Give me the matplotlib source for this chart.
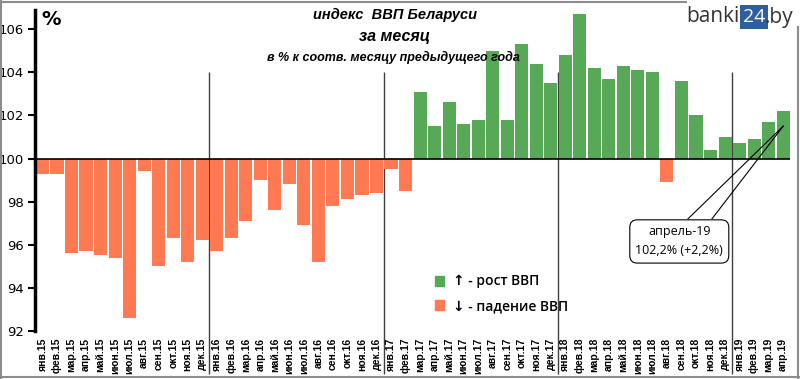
import numpy as np
import matplotlib
matplotlib.use("Agg")
import matplotlib.pyplot as plt
from matplotlib.patches import Patch
from matplotlib.lines import Line2D

# monthly GDP index, % to the same month of the previous year
months = ["янв", "фев", "мар", "апр", "май", "июн",
          "июл", "авг", "сен", "окт", "ноя", "дек"]
years = ["15", "16", "17", "18", "19"]
labels = [f"{m}.{y}" for y in years for m in months][:52]

gdp_2015 = [99.3, 99.3, 95.6, 95.7, 95.5, 95.4, 92.6, 99.4, 95.0, 96.3, 95.2, 96.2]
gdp_2016 = [95.7, 96.3, 97.1, 99.0, 97.6, 98.8, 96.9, 95.2, 97.8, 98.1, 98.3, 98.4]
gdp_2017 = [99.5, 98.5, 103.1, 101.5, 102.6, 101.6, 101.8, 105.0, 101.8, 105.3, 104.4, 103.5]
gdp_2018 = [104.8, 106.7, 104.2, 103.7, 104.3, 104.1, 104.0, 98.9, 103.6, 102.0, 100.4, 101.0]
gdp_2019 = [100.7, 100.9, 101.7, 102.2]
values = np.array(gdp_2015 + gdp_2016 + gdp_2017 + gdp_2018 + gdp_2019)

year_breaks = [11.5, 23.5, 35.5, 47.5]

GREEN = "#57A857"
RED = "#FF7A52"
BASE = 100

fig = plt.figure(figsize=(8, 3.79), dpi=100)
ax = fig.add_axes([0.044, 0.127, 0.944, 0.847])

x = np.arange(len(values))
colors = [GREEN if v >= BASE else RED for v in values]
ax.bar(x, values - BASE, bottom=BASE, width=0.9, color=colors, zorder=2)

ax.axhline(BASE, color="black", lw=1.2, zorder=3)
ax.vlines(year_breaks, 90.0, 104, color="#404040", lw=1, clip_on=False, zorder=1)

ax.set_xlim(-0.5, len(values) - 0.5)
ax.set_ylim(92, 106.9)
ax.set_yticks(np.arange(92, 107, 2))
ax.tick_params(axis="y", direction="out", length=5, width=1.5, labelsize=9.5, pad=3)
ax.set_xticks(x)
ax.set_xticklabels(labels, rotation=90, fontsize=7.5, fontweight="bold",
                   family="Liberation Sans", va="top")
ax.tick_params(axis="x", length=0, pad=5)
for s in ["top", "right", "bottom"]:
    ax.spines[s].set_visible(False)
ax.spines["left"].set_linewidth(2.5)

ax.text(0.008, 1.0, "%", transform=ax.transAxes, fontsize=14, fontweight="bold",
        va="top", ha="left")

# titles
tfont = dict(family="Liberation Sans", fontweight="bold", style="italic", ha="center", va="center")
fig.text(395 / 800, 1 - 15 / 379, "индекс  ВВП Беларуси", fontsize=10.5, **tfont)
fig.text(395 / 800, 1 - 37 / 379, "за месяц", fontsize=11.5, **tfont)
fig.text(393 / 800, 1 - 57 / 379, "в % к соотв. месяцу предыдущего года", fontsize=9, **tfont)

# legend
handles = [Patch(color=GREEN), Patch(color=RED)]
ax.legend(handles, ["↑ - рост ВВП", "↓ - падение ВВП"], frameon=False,
          loc="upper left", bbox_to_anchor=(422 / 800, 1 - 262 / 379),
          bbox_transform=fig.transFigure, handlelength=0.7, handleheight=0.7,
          handletextpad=0.6, labelspacing=0.75,
          prop={"family": ["Open Sans", "DejaVu Sans"], "size": 10, "weight": "semibold"})

# callout for the last month
last = len(values) - 1
tip = (last, values[last] - 0.7)
ax.plot([44.45, tip[0]], [97.2, tip[1]], color="black", lw=0.8, zorder=4)
ax.plot([46.1, tip[0]], [97.2, tip[1]], color="black", lw=0.8, zorder=4)
ax.text(43.85, 96.15, "апрель-19\n" + f"{values[last]:.1f}% (+{values[last] - BASE:.1f}%)".replace(".", ","),
        ha="center", va="center", fontsize=9, linespacing=1.6, zorder=5,
        family=["Open Sans", "DejaVu Sans"],
        bbox=dict(boxstyle="round,pad=0.45,rounding_size=0.6", fc="white", ec="black", lw=0.8))

# logo
fig.text(686 / 800, 1 - 17 / 379, "banki", fontsize=15, color="#333333", va="center", ha="left",
         family="Open Sans")
fig.text(743 / 800, 1 - 17 / 379, "24", fontsize=14, color="white", va="center", ha="left",
         family="Open Sans", bbox=dict(boxstyle="square,pad=0.15", fc="#2F5E9E", ec="none"))
fig.text(765 / 800, 1 - 17 / 379, ".by", fontsize=15, color="#333333", va="center", ha="left",
         family="Open Sans")

# image frame
gray = "#8C8C8C"
fig.add_artist(Line2D([0.001, 0.001], [0, 1], color=gray, lw=1.5, transform=fig.transFigure))
fig.add_artist(Line2D([0, 1], [0.004, 0.004], color=gray, lw=1.5, transform=fig.transFigure))
fig.add_artist(Line2D([0.998, 0.998], [0, 0.93], color=gray, lw=1.5, transform=fig.transFigure))
fig.add_artist(Line2D([0, 0.857], [0.996, 0.996], color=gray, lw=1.5, transform=fig.transFigure))

fig.savefig("out.png", dpi=100)
